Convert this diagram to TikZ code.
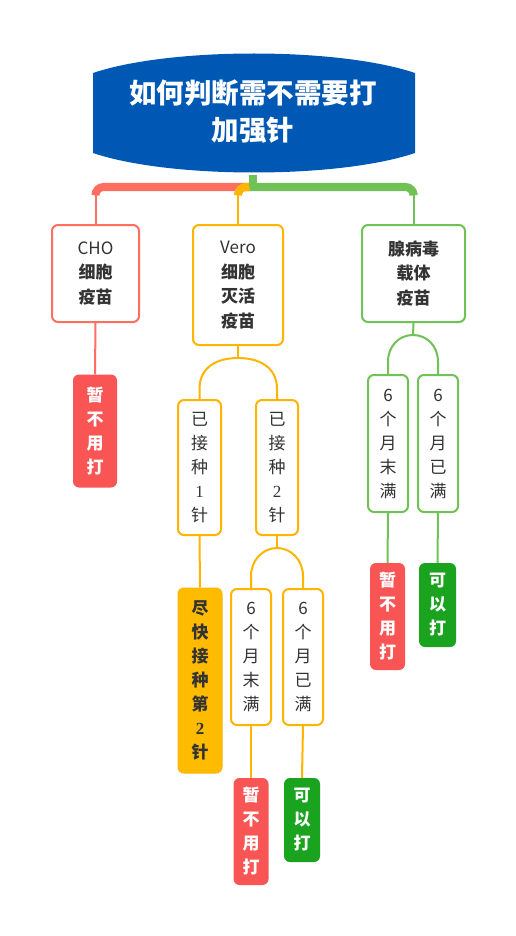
\documentclass[tikz,border=0pt]{standalone}
\usepackage{fontspec}
\setmainfont{Noto Sans CJK SC}
\newfontfamily\numfont{Liberation Serif}
\usepackage{xcolor}
\usepackage{tikz}
\definecolor{titleblue}{RGB}{0,88,181}
\definecolor{coral}{RGB}{255,111,97}
\definecolor{amber}{RGB}{255,180,0}
\definecolor{grass}{RGB}{112,193,86}
\definecolor{redfill}{RGB}{250,85,85}
\definecolor{greenfill}{RGB}{26,163,30}
\definecolor{ambfill}{RGB}{255,187,0}
\definecolor{textgray}{RGB}{51,51,51}

\begin{document}
\begin{tikzpicture}[x=1pt,y=-1pt]
\tikzstyle{topic}=[draw, line width=2pt, rounded corners=6pt, fill=white, text=textgray, align=center, inner sep=0pt, font=\fontsize{17}{24.5}\selectfont]
\tikzstyle{sub}=[topic, font=\fontsize{17}{24}\selectfont]
\tikzstyle{leaf}=[rounded corners=6pt, inner sep=0pt, align=center, text=white, font=\bfseries\fontsize{17}{24}\selectfont]
\tikzstyle{link}=[line width=2pt]
\tikzstyle{bar}=[line width=8pt, rounded corners=8pt]
\useasboundingbox[fill=white] (0,0) rectangle (515,936);

% title
\fill[titleblue] (93,73) .. controls (170,47) and (338,47) .. (415,73) -- (415,153)
  .. controls (338,179) and (170,179) .. (93,153) -- cycle;
\node[text=white, align=center, font=\bfseries\fontsize{27.5}{37}\selectfont] (title) at (253,112) {如何判断需不需要打\\加强针};
\coordinate (tb) at (253,175);
\coordinate (hub) at (250,187);

% first level
\node[topic, draw=coral, minimum width=87pt, minimum height=97pt] (cho) at (95.5,273.5) {CHO\\\textbf{细胞}\\\textbf{疫苗}};
\node[topic, draw=amber, minimum width=90pt, minimum height=120pt] (vero) at (238,285) {Vero\\\textbf{细胞}\\\textbf{灭活}\\\textbf{疫苗}};
\node[topic, draw=grass, minimum width=103pt, minimum height=97pt] (adeno) at (413.5,273.5) {\textbf{腺病毒}\\\textbf{载体}\\\textbf{疫苗}};

\draw[bar, coral] (hub) -| ([yshift=31pt]cho.north);
\draw[link, coral] ([yshift=33pt]cho.north) -- (cho.north);
\draw[bar, amber] (hub) -| ([yshift=31pt]vero.north);
\draw[link, amber] ([yshift=33pt]vero.north) -- (vero.north);
\draw[bar, grass] (hub) -| ([yshift=31pt]adeno.north);
\draw[link, grass] ([yshift=33pt]adeno.north) -- (adeno.north);
\draw[line width=8pt, grass] (tb) -- (tb |- hub);

% CHO
\node[leaf, fill=redfill, minimum width=44pt, minimum height=113pt] (chono) at (95,431) {暂\\不\\用\\打};
\draw[link, coral] (cho.south) -- (chono.north);

% Vero
\node[sub, draw=amber, minimum width=43pt, minimum height=135pt] (vone) at (199.5,467.5) {已\\接\\种\\{\numfont 1}\\针};
\node[sub, draw=amber, minimum width=42pt, minimum height=135pt] (vtwo) at (277,467.5) {已\\接\\种\\{\numfont 2}\\针};
\node[leaf, fill=ambfill, draw=amber, line width=1pt, text=textgray, minimum width=44pt, minimum height=185pt] (vsoon) at (200,680.5) {尽\\快\\接\\种\\第\\{\numfont 2}\\针};
\node[sub, draw=amber, minimum width=40pt, minimum height=136pt] (vless) at (251,657) {6\\个\\月\\末\\满};
\node[sub, draw=amber, minimum width=40pt, minimum height=136pt] (vfull) at (303,657) {6\\个\\月\\已\\满};
\node[leaf, fill=redfill, minimum width=35pt, minimum height=107pt] (vno) at (251,831.5) {暂\\不\\用\\打};
\node[leaf, fill=greenfill, minimum width=36pt, minimum height=84pt] (vyes) at (302,820) {可\\以\\打};

\coordinate (vj) at (238,358);
\coordinate (vtj) at (277,548);
\draw[link, amber] (vero.south) -- (vj);
\draw[link, amber] (vone.north) -- ++(0,-10) .. controls +(0,-22) and +(-21,0) .. (vj)
  .. controls +(21,0) and +(0,-22) .. ([yshift=10pt]vtwo.north) -- (vtwo.north);
\draw[link, amber] (vone.south) -- (vsoon.north);
\draw[link, amber] (vtwo.south) -- (vtj);
\draw[link, amber] (vless.north) -- ++(0,-12) .. controls +(0,-16) and +(-14,0) .. (vtj)
  .. controls +(14,0) and +(0,-16) .. ([yshift=12pt]vfull.north) -- (vfull.north);
\draw[link, amber] (vless.south) -- (vno.north);
\draw[link, amber] (vfull.south) -- (vyes.north);

% adenovirus
\node[sub, draw=grass, minimum width=40pt, minimum height=137pt] (aless) at (388,443.5) {6\\个\\月\\末\\满};
\node[sub, draw=grass, minimum width=40pt, minimum height=137pt] (afull) at (438,443.5) {6\\个\\月\\已\\满};
\node[leaf, fill=redfill, minimum width=35pt, minimum height=107pt] (ano) at (387.5,616.5) {暂\\不\\用\\打};
\node[leaf, fill=greenfill, minimum width=37pt, minimum height=84pt] (ayes) at (437.5,605) {可\\以\\打};

\coordinate (aj) at (413,335);
\draw[link, grass] (adeno.south) -- (aj);
\draw[link, grass] (aless.north) -- ++(0,-12) .. controls +(0,-16) and +(-14,0) .. (aj)
  .. controls +(14,0) and +(0,-16) .. ([yshift=12pt]afull.north) -- (afull.north);
\draw[link, grass] (aless.south) -- (ano.north);
\draw[link, grass] (afull.south) -- (ayes.north);

\end{tikzpicture}
\end{document}
